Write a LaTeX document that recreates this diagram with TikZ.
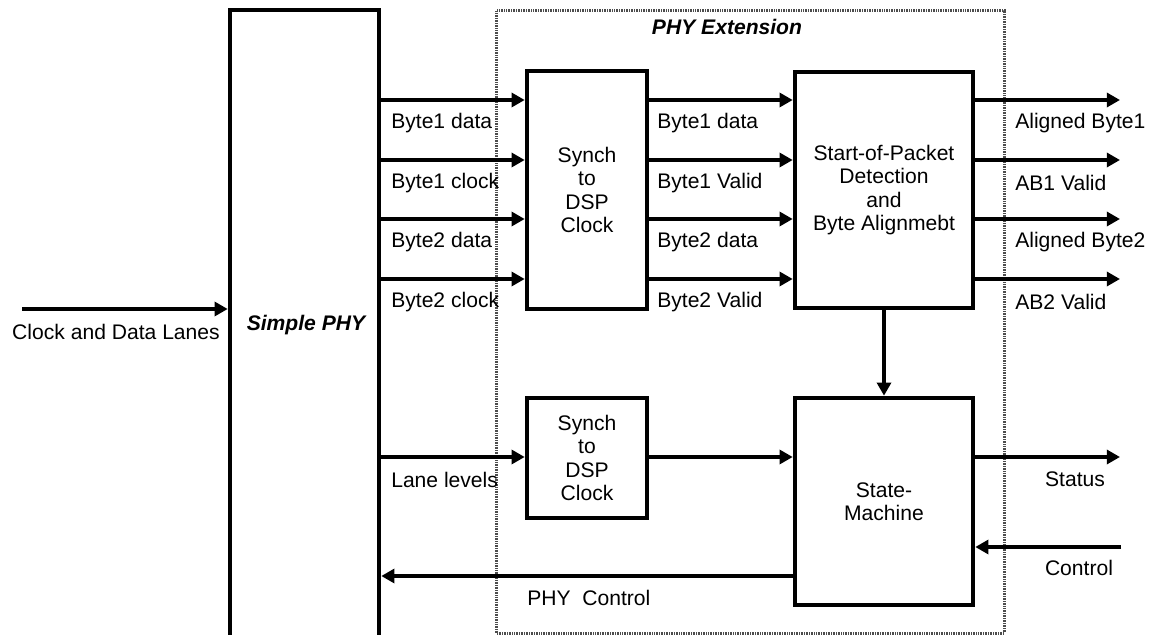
\documentclass[tikz,border=0pt]{standalone}
\usepackage{fontspec}
\setmainfont{Liberation Sans}
\usetikzlibrary{arrows.meta}
\tikzset{
  blk/.style={draw, line width=3.2pt, inner sep=0pt, align=center},
  sig/.style={line width=2.8pt, -{Triangle[length=0.33cm,width=0.35cm]}},
  lbl/.style={anchor=west, inner sep=0pt},
}

\begin{document}
\begin{tikzpicture}[x=0.025cm,y=-0.025cm,font=\fontsize{15}{16.7}\selectfont]
\useasboundingbox (0,0) rectangle (1150,635);
\clip (0,0) rectangle (1150,635);
% blocks
\node[draw, black!70, line width=2.2pt, dash pattern=on 0.6pt off 0.6pt,
  minimum width=12.675cm, minimum height=15.55cm] (ext) at (750.5,322) {};
\node (exttxt) at (727,27) {\bfseries\itshape PHY Extension};
\node[blk, minimum width=3.725cm, minimum height=17.5cm] (sphy) at (304.5,360) {};
\node (sphytxt) at (306,325) {\bfseries\itshape Simple PHY};
\node[blk, minimum width=3cm, minimum height=5.95cm] (syn1) at (587,190) {Synch\\to\\DSP\\Clock};
\node[blk, minimum width=4.45cm, minimum height=5.9cm] (sop) at (884,190)
  {Start-of-Packet\\Detection\\and\\Byte Alignmebt};
\node[blk, minimum width=3cm, minimum height=3cm] (syn2) at (587,458) {Synch\\to\\DSP\\Clock};
\node[blk, minimum width=4.45cm, minimum height=5.175cm] (sm) at (884,501.5) {State-\\Machine};
% input lanes
\coordinate (cin) at (22,309);
\draw[sig] (cin) -- (cin -| sphy.west);
\node (cintxt) at (116,332) {Clock and Data Lanes};
% byte paths
\foreach \y/\a/\b/\c [count=\i] in {100/Byte1 data/Byte1 data/Aligned Byte1,
    160/Byte1 clock/Byte1 Valid/AB1 Valid, 219/Byte2 data/Byte2 data/Aligned Byte2,
    279/Byte2 clock/Byte2 Valid/AB2 Valid}{
  \coordinate (out\i) at (1120,\y);
  \draw[sig] (sphy.east |- 0,\y) -- (syn1.west |- 0,\y);
  \draw[sig] (syn1.east |- 0,\y) -- (sop.west |- 0,\y);
  \draw[sig] (sop.east |- 0,\y) -- (out\i);
  \node[lbl] (inl\i) at (391,\y+23) {\a};
  \node[lbl] (midl\i) at (657,\y+23) {\b};
  \node[lbl] (outl\i) at (1015,\y+23) {\c};
}
\draw[sig] (sop.south) -- (sm.north);
% lane levels and status
\coordinate (stat) at (1120,457);
\draw[sig] (sphy.east |- stat) -- (syn2.west |- stat);
\draw[sig] (syn2.east |- stat) -- (sm.west |- stat);
\draw[sig] (sm.east |- stat) -- (stat);
\node[lbl] (lanetxt) at (391,480) {Lane levels};
\node (stattxt) at (1075,479) {Status};
% control
\coordinate (ctl) at (1121,547);
\draw[sig] (ctl) -- (ctl -| sm.east);
\node (ctltxt) at (1079,568) {Control};
\draw[sig] (sm.west |- 0,576) -- (sphy.east |- 0,576);
\node[lbl] (phyctl) at (527,598) {PHY\ \ Control};
\end{tikzpicture}
\end{document}
